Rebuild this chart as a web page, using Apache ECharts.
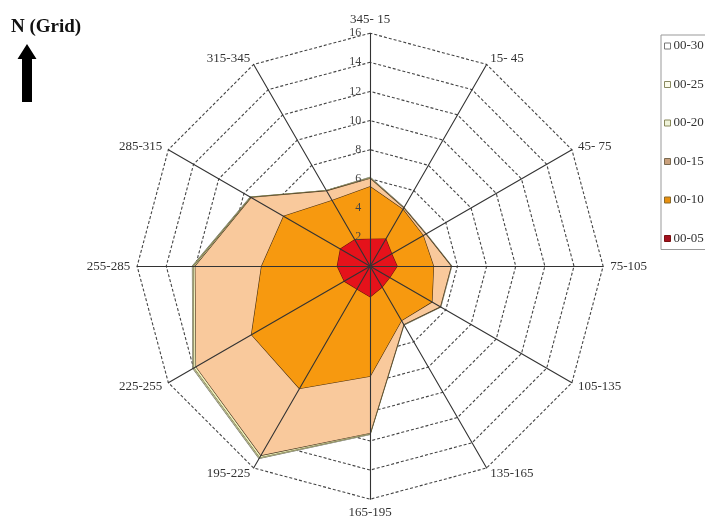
<!DOCTYPE html>
<html>
<head>
<meta charset="utf-8">
<script src="https://cdn.jsdelivr.net/npm/echarts@6/dist/echarts.min.js"></script>
<style>
html,body{margin:0;padding:0;background:#fff;}
#chart{width:705px;height:524px;}
</style>
</head>
<body>
<div id="chart"></div>
<script>
// Sectors, counter-clockwise from the top (ECharts radar order)
const sectors = ['345- 15','315-345','285-315','255-285','225-255','195-225','165-195','135-165','105-135','75-105','45- 75','15- 45'];
const seriesNames = ['00-30','00-25','00-20','00-15','00-10','00-05'];
const s30 = [6.1, 6.0, 9.5, 12.2, 14.05, 15.25, 11.55, 4.65, 5.6, 5.6, 4.45, 4.65];
const s25 = [6.05, 6.0, 9.45, 12.15, 14.0, 15.2, 11.5, 4.6, 5.55, 5.55, 4.4, 4.6];
const s20 = [6.05, 5.95, 9.45, 12.1, 13.95, 15.15, 11.5, 4.6, 5.55, 5.55, 4.4, 4.6];
const s15 = [6.0, 5.95, 9.4, 12.0, 13.8, 15.0, 11.45, 4.6, 5.55, 5.55, 4.4, 4.6];
const s10 = [5.45, 5.2, 6.85, 7.45, 9.4, 9.7, 7.55, 4.3, 4.9, 4.35, 4.2, 4.5];
const s05 = [1.85, 2.1, 2.35, 2.25, 2.05, 1.8, 2.1, 1.65, 1.55, 1.85, 1.7, 2.15];
const axisMax = 16;

const values = [s30, s25, s20, s15, s10, s05];
const fills = ['#ffffff', '#fffef0', '#f1f3c0', '#f9c99c', '#f7990f', '#e5121b'];
const lines = ['#666655', '#8a8a50', '#6a6a35', '#4a3520', '#4a3010', '#6e1010'];
const legendFills = ['#ffffff', '#fbfbea', '#eef2d8', '#c9a07c', '#e8900f', '#a3101e'];
const legendBorders = ['#777777', '#888860', '#88885a', '#7a6a50', '#8a6a2a', '#7a1010'];

const serif = '"Liberation Serif", "DejaVu Serif", serif';
const center = ['52.5%', '50.8%'];
const radius = 233;

const indicatorsBase = sectors.map(function (s) { return { name: s, min: 0, max: axisMax }; });
const indicatorsTop = sectors.map(function (s, i) {
  const o = { name: s, min: 0, max: axisMax };
  if (i === 0) {
    o.axisLabel = { show: true, showMinLabel: false, color: '#444', fontFamily: serif, fontSize: 12, margin: 9 };
  }
  return o;
});

const chart = echarts.init(document.getElementById('chart'), null, { renderer: 'canvas' });
chart.setOption({
  animation: false,
  backgroundColor: '#fff',
  legend: {
    orient: 'vertical',
    left: 661,
    top: 35,
    padding: [4, 12, 4, 3],
    itemGap: 24.5,
    itemWidth: 6,
    itemHeight: 6,
    icon: 'rect',
    borderColor: '#999',
    borderWidth: 1,
    selectedMode: false,
    textStyle: { fontFamily: serif, fontSize: 13, color: '#333', lineHeight: 14, padding: [0, 0, 0, -2] },
    data: seriesNames.map(function (n, i) {
      return { name: n, itemStyle: { color: legendFills[i], borderColor: legendBorders[i], borderWidth: 1 } };
    })
  },
  radar: [
    {
      center: center, radius: radius, startAngle: 90, shape: 'polygon', splitNumber: 8,
      indicator: indicatorsBase,
      nameGap: 7,
      axisName: { color: '#333', fontFamily: serif, fontSize: 13 },
      axisLine: { show: false },
      axisTick: { show: false },
      axisLabel: { show: false },
      splitLine: { show: true, lineStyle: { color: '#444', width: 1.1, type: [3, 2] } },
      splitArea: { show: false },
      z: 0
    },
    {
      center: center, radius: radius, startAngle: 90, shape: 'polygon', splitNumber: 8,
      indicator: indicatorsTop,
      axisName: { show: false },
      axisLine: { show: true, lineStyle: { color: '#333', width: 1.1 } },
      axisTick: { show: false },
      axisLabel: { show: false },
      splitLine: { show: false },
      splitArea: { show: false },
      z: 3
    }
  ],
  series: [{
    type: 'radar',
    radarIndex: 0,
    symbol: 'none',
    emphasis: { disabled: true },
    data: seriesNames.map(function (n, i) {
      return {
        name: n,
        value: values[i],
        symbol: 'none',
        itemStyle: { color: legendFills[i], borderColor: legendBorders[i] },
        lineStyle: { color: lines[i], width: 1.2 },
        areaStyle: { color: fills[i], opacity: 1 }
      };
    })
  }],
  graphic: [
    {
      type: 'text', left: 11, top: 18,
      style: { text: 'N (Grid)', font: 'bold 19px ' + serif, fill: '#111' }
    },
    {
      type: 'polygon',
      shape: { points: [[27, 44], [36.5, 59], [32, 59], [32, 102], [22, 102], [22, 59], [17.5, 59]] },
      style: { fill: '#000' }
    }
  ]
});
</script>
</body>
</html>
